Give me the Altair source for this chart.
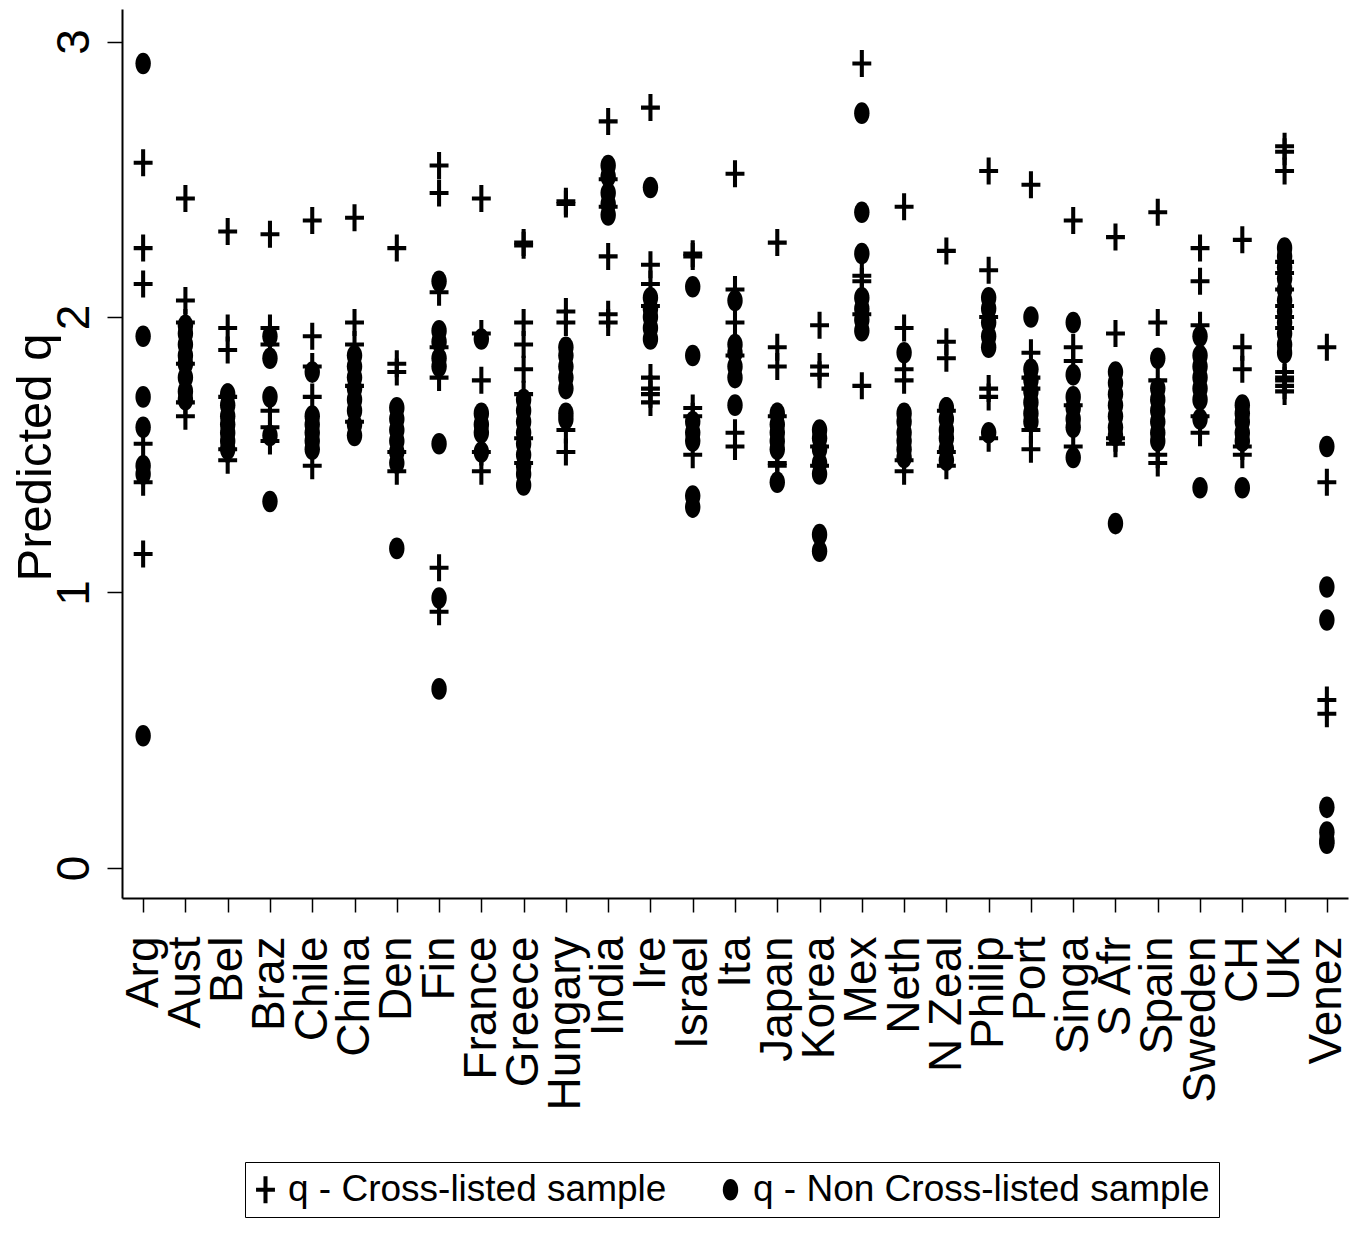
import altair as alt
import pandas as pd

countries = ["Arg", "Aust", "Bel", "Braz", "Chile", "China", "Den", "Fin", "France",
             "Greece", "Hungary", "India", "Ire", "Israel", "Ita", "Japan", "Korea",
             "Mex", "Neth", "N Zeal", "Philip", "Port", "Singa", "S Afr", "Spain",
             "Sweden", "CH", "UK", "Venez"]

cross_listed_q = [
    [2.56, 2.25, 2.12, 1.54, 1.40, 1.14],                       # Arg
    [2.43, 2.06, 1.98, 1.83, 1.69, 1.64],                       # Aust
    [2.31, 1.96, 1.88, 1.71, 1.52, 1.48],                       # Bel
    [2.30, 1.96, 1.90, 1.66, 1.60, 1.55],                       # Braz
    [2.35, 1.93, 1.82, 1.71, 1.46],                             # Chile
    [2.36, 1.98, 1.90, 1.75, 1.62],                             # China
    [2.25, 1.83, 1.80, 1.51, 1.44],                             # Den
    [2.55, 2.45, 2.09, 1.89, 1.78, 1.09, 0.93],                 # Fin
    [2.43, 1.94, 1.77, 1.51, 1.44],                             # France
    [2.27, 2.26, 1.98, 1.90, 1.81, 1.72, 1.56, 1.47],           # Greece
    [2.42, 2.41, 2.02, 1.98, 1.59, 1.51],                       # Hungary
    [2.71, 2.50, 2.40, 2.22, 2.01, 1.98],                       # India
    [2.76, 2.19, 2.12, 2.04, 1.78, 1.74, 1.72, 1.69],           # Ire
    [2.23, 2.22, 1.67, 1.64, 1.50],                             # Israel
    [2.52, 2.10, 1.98, 1.86, 1.58, 1.53],                       # Ita
    [2.27, 1.89, 1.82, 1.64, 1.47, 1.46],                       # Japan
    [1.97, 1.82, 1.79, 1.53, 1.46],                             # Korea
    [2.92, 2.15, 2.13, 2.01, 1.75],                             # Mex
    [2.40, 1.96, 1.81, 1.77, 1.48, 1.44],                       # Neth
    [2.24, 1.91, 1.85, 1.66, 1.51, 1.46],                       # N Zeal
    [2.53, 2.17, 2.00, 1.74, 1.71, 1.56],                       # Philip
    [2.48, 1.87, 1.78, 1.74, 1.59, 1.52],                       # Port
    [2.35, 1.89, 1.84, 1.68, 1.53],                             # Singa
    [2.29, 1.94, 1.56, 1.54],                                   # S Afr
    [2.38, 1.98, 1.77, 1.50, 1.47],                             # Spain
    [2.25, 2.13, 1.97, 1.64, 1.58],                             # Sweden
    [2.28, 1.89, 1.81, 1.53, 1.50],                             # CH
    [2.62, 2.60, 2.53, 2.20, 2.16, 2.10, 2.04, 2.00, 1.96,
     1.80, 1.78, 1.77, 1.75, 1.73],                             # UK
    [1.89, 1.40, 0.61, 0.56],                                   # Venez
]

non_cross_listed_q = [
    [2.92, 1.93, 1.71, 1.60, 1.46, 1.43, 0.48],                 # Arg
    [1.97, 1.94, 1.90, 1.86, 1.83, 1.78, 1.73, 1.70],           # Aust
    [1.72, 1.68, 1.64, 1.61, 1.58, 1.55, 1.52],                 # Bel
    [1.93, 1.85, 1.71, 1.57, 1.33],                             # Braz
    [1.80, 1.64, 1.61, 1.58, 1.55, 1.52],                       # Chile
    [1.86, 1.82, 1.78, 1.74, 1.70, 1.66, 1.61, 1.57],           # China
    [1.67, 1.63, 1.59, 1.55, 1.51, 1.47, 1.16],                 # Den
    [2.13, 1.95, 1.91, 1.85, 1.82, 1.54, 0.98, 0.65],           # Fin
    [1.92, 1.65, 1.61, 1.58, 1.51],                             # France
    [1.70, 1.66, 1.62, 1.58, 1.54, 1.50, 1.46, 1.43, 1.39],     # Greece
    [1.89, 1.86, 1.82, 1.78, 1.74, 1.65, 1.63],                 # Hungary
    [2.55, 2.51, 2.45, 2.41, 2.37],                             # India
    [2.47, 2.07, 2.03, 2.00, 1.96, 1.92],                       # Ire
    [2.11, 1.86, 1.62, 1.58, 1.55, 1.35, 1.31],                 # Israel
    [2.06, 1.90, 1.87, 1.82, 1.78, 1.68],                       # Ita
    [1.65, 1.61, 1.58, 1.55, 1.52, 1.40],                       # Japan
    [1.59, 1.56, 1.52, 1.47, 1.43, 1.21, 1.15],                 # Korea
    [2.74, 2.38, 2.23, 2.07, 2.03, 1.99, 1.95],                 # Mex
    [1.87, 1.65, 1.62, 1.58, 1.55, 1.52, 1.49],                 # Neth
    [1.67, 1.63, 1.59, 1.56, 1.52, 1.48],                       # N Zeal
    [2.07, 2.03, 1.98, 1.93, 1.89, 1.58],                       # Philip
    [2.00, 1.81, 1.77, 1.73, 1.69, 1.65, 1.62],                 # Port
    [1.98, 1.79, 1.71, 1.67, 1.63, 1.60, 1.49],                 # Singa
    [1.80, 1.76, 1.72, 1.68, 1.64, 1.60, 1.57, 1.25],           # S Afr
    [1.85, 1.74, 1.70, 1.66, 1.62, 1.58, 1.55],                 # Spain
    [1.93, 1.86, 1.82, 1.78, 1.74, 1.70, 1.63, 1.38],           # Sweden
    [1.68, 1.65, 1.62, 1.58, 1.55, 1.38],                       # CH
    [2.25, 2.22, 2.18, 2.14, 2.10, 2.06, 2.02, 1.98, 1.94,
     1.90, 1.87],                                               # UK
    [1.53, 1.02, 0.90, 0.22, 0.13, 0.10, 0.09],                 # Venez
]

series_names = ["q - Cross-listed sample", "q - Non Cross-listed sample"]

rows = []
for c, vals in zip(countries, cross_listed_q):
    for v in vals:
        rows.append({"country": c, "q": v, "series": series_names[0]})
for c, vals in zip(countries, non_cross_listed_q):
    for v in vals:
        rows.append({"country": c, "q": v, "series": series_names[1]})
df = pd.DataFrame(rows)

plus_path = ("M-0.15,-1L0.15,-1L0.15,-0.15L0.7,-0.15L0.7,0.15L0.15,0.15L0.15,1"
             "L-0.15,1L-0.15,0.15L-0.7,0.15L-0.7,-0.15L-0.15,-0.15Z")
dot_path = "M0,-0.8A0.57,0.8 0 1,1 0,0.8A0.57,0.8 0 1,1 0,-0.8Z"

chart = alt.Chart(df).mark_point(
    filled=True, opacity=1, size=729, color="black", strokeWidth=0
).encode(
    x=alt.X("country:N", sort=countries,
            scale=alt.Scale(type="point", padding=0.5),
            axis=alt.Axis(title=None, labelAngle=-90, labelFont="Liberation Sans",
                          labelFontSize=46, labelColor="black", labelPadding=24,
                          tickSize=14, tickWidth=1.5, tickColor="black",
                          domainColor="black", domainWidth=2, grid=False,
                          labelAlign="right", labelBaseline="middle")),
    y=alt.Y("q:Q", scale=alt.Scale(domain=[-0.109, 3.118], nice=False, zero=False),
            axis=alt.Axis(title="Predicted q", values=[0, 1, 2, 3], format="d",
                          labelAngle=-90, labelFont="Liberation Sans", labelFontSize=46,
                          labelColor="black", labelPadding=19,
                          labelAlign="center", labelBaseline="alphabetic",
                          tickSize=15, tickWidth=1.5, tickColor="black",
                          domainColor="black", domainWidth=2, grid=False,
                          titleFont="Liberation Sans", titleFontSize=49,
                          titleFontWeight="normal", titleColor="black",
                          titleAngle=-90, titleX=-72, titleY=448,
                          titleAlign="center", titleBaseline="alphabetic")),
    shape=alt.Shape("series:N",
                    scale=alt.Scale(domain=series_names, range=[plus_path, dot_path]),
                    legend=alt.Legend(title=None, orient="none", legendX=123,
                                      legendY=1153, direction="horizontal",
                                      symbolSize=729, symbolFillColor="black",
                                      symbolStrokeWidth=0, symbolOpacity=1,
                                      symbolOffset=-7,
                                      labelFont="Liberation Sans",
                                      labelFontSize=37, labelColor="black",
                                      labelOffset=4, columnPadding=52,
                                      padding=9, strokeColor="black",
                                      labelLimit=0)),
).properties(
    width=1226, height=889,
    padding={"left": 122, "top": 9, "right": 10, "bottom": 355},
    autosize=alt.AutoSizeParams(type="none"),
    background="white",
).configure_view(stroke=None)

chart.save("out.html", embed_options={"renderer": "svg", "actions": False})
